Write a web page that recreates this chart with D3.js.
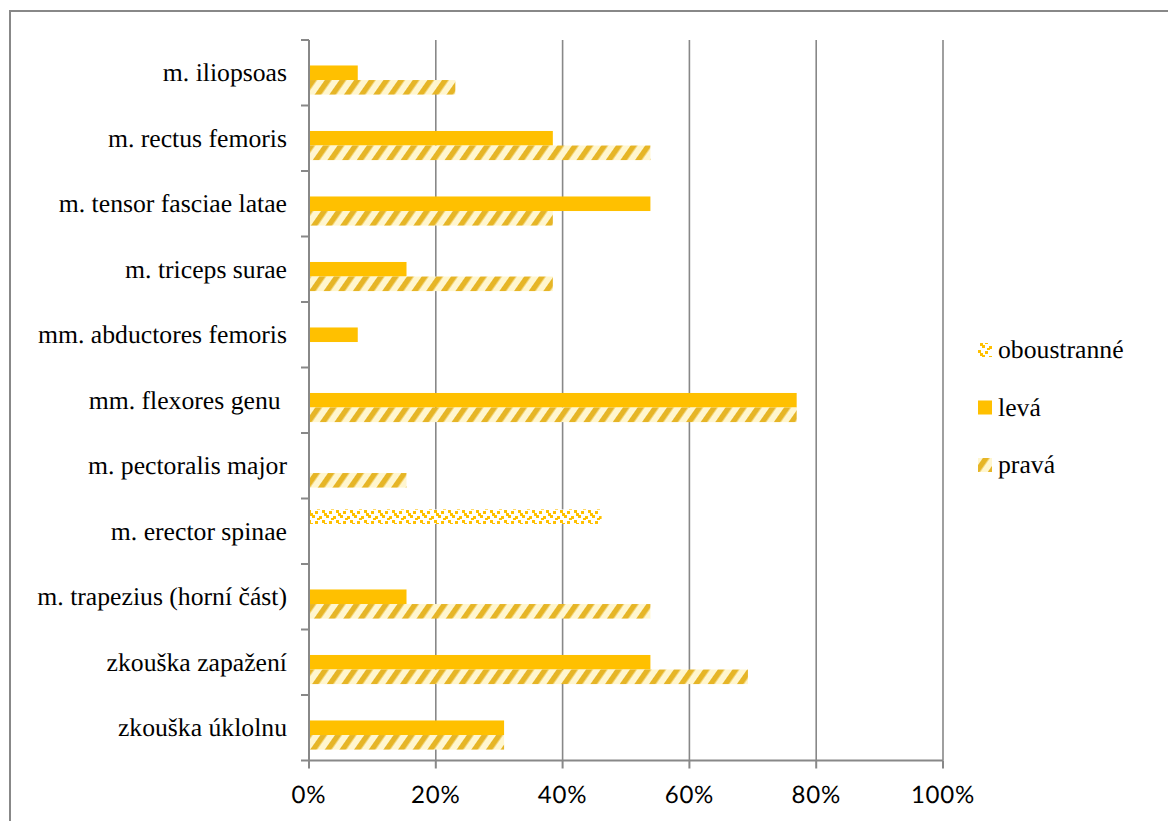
<!DOCTYPE html>
<html>
<head>
<meta charset="utf-8">
<script src="https://cdn.jsdelivr.net/npm/d3@7"></script>
<style>
  html, body { margin: 0; padding: 0; background: #fff; }
  svg { display: block; text-rendering: geometricPrecision; }
</style>
</head>
<body>
<svg id="chart" width="1168" height="821"></svg>
<script>
// Muscle / test categories, top to bottom
const categories = [
  "m. iliopsoas",
  "m. rectus femoris",
  "m. tensor fasciae latae",
  "m. triceps surae",
  "mm. abductores femoris",
  "mm. flexores genu ",
  "m. pectoralis major",
  "m. erector spinae",
  "m. trapezius (horní část)",
  "zkouška zapažení",
  "zkouška úklolnu"
];

// Share of subjects (%) per side
const oboustranne = [0, 0, 0, 0, 0, 0, 0, 46.15, 0, 0, 0];
const leva        = [7.69, 38.46, 53.85, 15.38, 7.69, 76.92, 0, 0, 15.38, 53.85, 30.77];
const prava       = [23.08, 53.85, 38.46, 38.46, 0, 76.92, 15.38, 0, 53.85, 69.23, 30.77];

const seriesNames = ["oboustranné", "levá", "pravá"];
const seriesValues = [oboustranne, leva, prava];
const xTicks = [0, 20, 40, 60, 80, 100];

const SERIF = '"Liberation Serif"';
const SANS = '"Lato"';

const svg = d3.select("#chart");
const gray = "#888888";

// Fill patterns
const defs = svg.append("defs");

const stripes = defs.append("pattern")
  .attr("id", "pat-prava")
  .attr("patternUnits", "userSpaceOnUse")
  .attr("width", 12).attr("height", 12)
  .attr("patternTransform", "rotate(35)");
stripes.append("rect").attr("width", 12).attr("height", 12).attr("fill", "#fff6cf");
stripes.append("rect").attr("x", 0).attr("width", 5.5).attr("height", 12).attr("fill", "#e6b526");

const confetti = defs.append("pattern")
  .attr("id", "pat-obou")
  .attr("patternUnits", "userSpaceOnUse")
  .attr("width", 14).attr("height", 10);
confetti.append("rect").attr("width", 14).attr("height", 10).attr("fill", "#fff");
[[0, 0], [7, 1], [4, 5], [11, 6], [2, 3], [9, 8]].forEach(([px, py]) => {
  confetti.append("rect").attr("x", px).attr("y", py)
    .attr("width", 3).attr("height", 3).attr("fill", "#ffc000");
});

const fills = {
  "oboustranné": "url(#pat-obou)",
  "levá": "#ffc000",
  "pravá": "url(#pat-prava)"
};

// Outer frame
svg.append("rect")
  .attr("x", 10).attr("y", 11)
  .attr("width", 1170).attr("height", 830)
  .attr("fill", "none").attr("stroke", gray).attr("stroke-width", 2);

// Scales
const x = d3.scaleLinear().domain([0, 100]).range([309, 943]);
const y = d3.scaleBand().domain(categories).range([40, 760.5]).padding(0);
const ySub = d3.scaleBand().domain(seriesNames).range([0, y.bandwidth()])
  .paddingInner(0).paddingOuter(0.75);

// Vertical gridlines
svg.append("g").selectAll("line")
  .data(xTicks.filter(t => t > 0))
  .join("line")
  .attr("x1", d => x(d)).attr("x2", d => x(d))
  .attr("y1", 40).attr("y2", 760.5)
  .attr("stroke", gray).attr("stroke-width", 1.6);

// Bars
const rows = [];
categories.forEach((c, i) => {
  seriesNames.forEach((s, j) => {
    const v = seriesValues[j][i];
    if (v > 0) rows.push({ cat: c, series: s, value: v });
  });
});

svg.append("g").selectAll("rect")
  .data(rows)
  .join("rect")
  .attr("x", x(0))
  .attr("y", d => y(d.cat) + ySub(d.series))
  .attr("width", d => x(d.value) - x(0))
  .attr("height", ySub.bandwidth())
  .attr("fill", d => fills[d.series]);

// Category axis
const yAxis = svg.append("g");
yAxis.append("line")
  .attr("x1", x(0)).attr("x2", x(0))
  .attr("y1", 40).attr("y2", 760.5)
  .attr("stroke", gray).attr("stroke-width", 2);
const boundaries = categories.map(c => y(c)).concat([y.range()[1]]);
yAxis.selectAll("line.tick")
  .data(boundaries)
  .join("line")
  .attr("class", "tick")
  .attr("x1", x(0) - 8).attr("x2", x(0))
  .attr("y1", d => d).attr("y2", d => d)
  .attr("stroke", gray).attr("stroke-width", 2);
yAxis.selectAll("text")
  .data(categories)
  .join("text")
  .attr("x", 287)
  .attr("y", d => y(d) + y.bandwidth() / 2)
  .attr("dy", "0.33em")
  .attr("text-anchor", "end")
  .style("font-family", SERIF)
  .style("font-size", "25.7px")
  .style("white-space", "pre")
  .attr("fill", "#000")
  .text(d => d);

// Value axis
const xAxisY = 760.5;
const xAxis = svg.append("g");
xAxis.append("line")
  .attr("x1", x(0)).attr("x2", x(100))
  .attr("y1", xAxisY).attr("y2", xAxisY)
  .attr("stroke", gray).attr("stroke-width", 2);
xAxis.selectAll("line.tick")
  .data(xTicks)
  .join("line")
  .attr("class", "tick")
  .attr("x1", d => x(d)).attr("x2", d => x(d))
  .attr("y1", xAxisY).attr("y2", xAxisY + 8)
  .attr("stroke", gray).attr("stroke-width", 2);
xAxis.selectAll("text")
  .data(xTicks)
  .join("text")
  .attr("x", d => x(d))
  .attr("y", 803)
  .attr("text-anchor", "middle")
  .style("font-family", SANS)
  .style("font-size", "24px")
  .style("letter-spacing", "0.8px")
  .attr("fill", "#000")
  .text(d => d + "%");

// Legend
const legendY = d3.scalePoint().domain(seriesNames).range([350, 465]);
const legend = svg.append("g").selectAll("g")
  .data(seriesNames)
  .join("g")
  .attr("transform", d => `translate(978, ${legendY(d)})`);
legend.append("rect")
  .attr("x", 0).attr("y", -7)
  .attr("width", 14).attr("height", 14)
  .attr("fill", d => fills[d]);
legend.append("text")
  .attr("x", 20).attr("y", 0)
  .attr("dy", "0.32em")
  .style("font-family", SERIF)
  .style("font-size", "25.7px")
  .attr("fill", "#000")
  .text(d => d);
</script>
</body>
</html>
